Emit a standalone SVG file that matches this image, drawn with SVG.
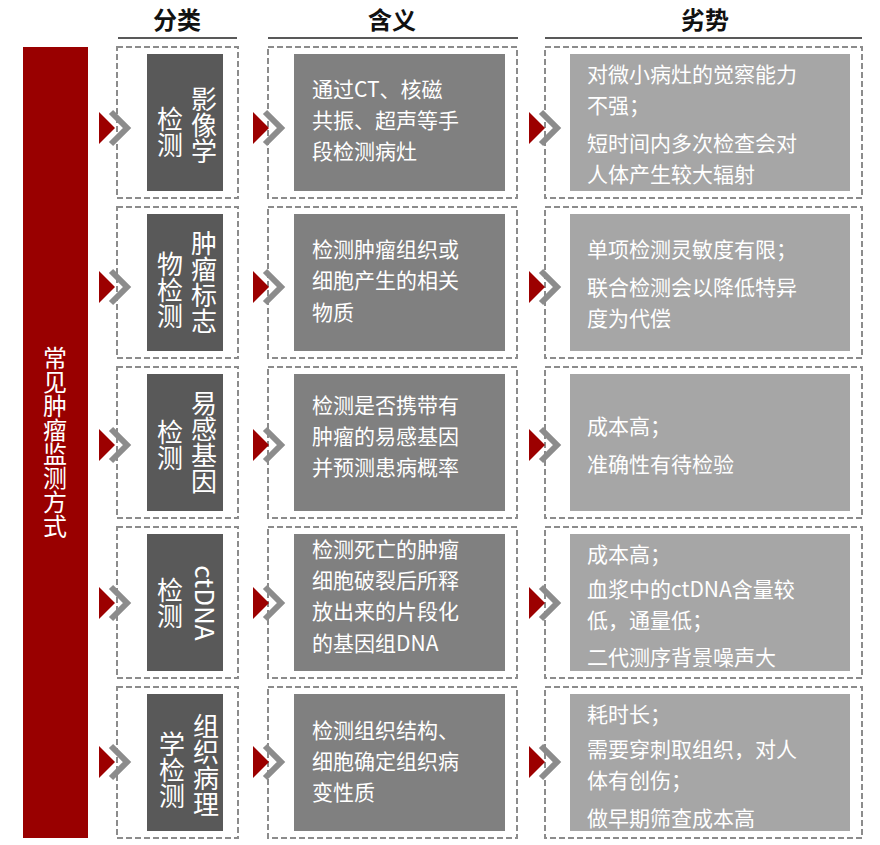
<svg xmlns="http://www.w3.org/2000/svg" width="880" height="845" viewBox="0 0 880 845">
<style>
text{font-family:"Noto Sans CJK SC","Liberation Sans",sans-serif}
.h{font-size:24px;fill:#111;text-anchor:middle;font-weight:bold}
.ul{stroke:#222;stroke-width:1.5}
.db{fill:#fff;stroke:#8c8c8c;stroke-width:2;stroke-dasharray:6,3}
.c1{fill:#595959}.c2{fill:#808080}.c3{fill:#a6a6a6}
.v{font-size:26px;fill:#fff;writing-mode:vertical-rl;text-anchor:middle}
.t{font-size:21px;fill:#fff}
.tri{fill:#9c0000}
.chev{fill:none;stroke:#8c8c8c;stroke-width:6}
</style>
<defs>
<g id="arrow"><polygon class="tri" points="0,-16 16,0 0,16"/><polyline class="chev" points="12,-16 28,0 12,16"/></g>
</defs>
<text class="h" x="177" y="29">分类</text>
<text class="h" x="392" y="29">含义</text>
<text class="h" x="705" y="29">劣势</text>
<line class="ul" x1="118" y1="38" x2="237" y2="38"/>
<line class="ul" x1="268" y1="38" x2="518" y2="38"/>
<line class="ul" x1="545" y1="38" x2="862" y2="38"/>
<g id="bar"><rect x="23" y="47" width="65" height="791" fill="#990000"/>
<text class="v" x="55" y="442" style="font-size:24px">常见肿瘤监测方式</text></g>
<g id="row1">
<rect class="db" x="117" y="47" width="121" height="151"/><rect class="c1" x="147" y="54" width="76" height="137"/>
<text class="v" x="204" y="125">影像学</text><text class="v" x="170" y="132">检测</text>
<rect class="db" x="268" y="47" width="249" height="151"/><rect class="c2" x="294" y="54" width="211" height="137"/>
<text class="t" x="312" y="97">通过CT、核磁</text><text class="t" x="312" y="128">共振、超声等手</text><text class="t" x="312" y="159">段检测病灶</text>
<rect class="db" x="545" y="47" width="317" height="151"/><rect class="c3" x="570" y="54" width="280" height="137"/>
<text class="t" x="587" y="82">对微小病灶的觉察能力</text><text class="t" x="587" y="113">不强；</text><text class="t" x="587" y="151">短时间内多次检查会对</text><text class="t" x="587" y="182">人体产生较大辐射</text>
</g>
<g id="row2">
<rect class="db" x="117" y="207" width="121" height="151"/><rect class="c1" x="147" y="214" width="76" height="137"/>
<text class="v" x="204" y="282">肿瘤标志</text><text class="v" x="170" y="290">物检测</text>
<rect class="db" x="268" y="207" width="249" height="151"/><rect class="c2" x="294" y="214" width="211" height="137"/>
<text class="t" x="312" y="257">检测肿瘤组织或</text><text class="t" x="312" y="288">细胞产生的相关</text><text class="t" x="312" y="320">物质</text>
<rect class="db" x="545" y="207" width="317" height="151"/><rect class="c3" x="570" y="214" width="280" height="137"/>
<text class="t" x="587" y="257">单项检测灵敏度有限；</text><text class="t" x="587" y="295">联合检测会以降低特异</text><text class="t" x="587" y="326">度为代偿</text>
</g>
<g id="row3">
<rect class="db" x="117" y="367" width="121" height="151"/><rect class="c1" x="147" y="374" width="76" height="137"/>
<text class="v" x="204" y="442">易感基因</text><text class="v" x="170" y="445">检测</text>
<rect class="db" x="268" y="367" width="249" height="151"/><rect class="c2" x="294" y="374" width="211" height="137"/>
<text class="t" x="312" y="413">检测是否携带有</text><text class="t" x="312" y="444">肿瘤的易感基因</text><text class="t" x="312" y="475">并预测患病概率</text>
<rect class="db" x="545" y="367" width="317" height="151"/><rect class="c3" x="570" y="374" width="280" height="137"/>
<text class="t" x="587" y="434">成本高；</text><text class="t" x="587" y="472">准确性有待检验</text>
</g>
<g id="row4">
<rect class="db" x="117" y="527" width="121" height="151"/><rect class="c1" x="147" y="534" width="76" height="137"/>
<text class="v" x="206" y="603">ctDNA</text><text class="v" x="170" y="603">检测</text>
<rect class="db" x="268" y="527" width="249" height="151"/><rect class="c2" x="294" y="534" width="211" height="137"/>
<text class="t" x="312" y="557">检测死亡的肿瘤</text><text class="t" x="312" y="588">细胞破裂后所释</text><text class="t" x="312" y="619">放出来的片段化</text><text class="t" x="312" y="651">的基因组DNA</text>
<rect class="db" x="545" y="527" width="317" height="151"/><rect class="c3" x="570" y="534" width="280" height="137"/>
<text class="t" x="587" y="562">成本高；</text><text class="t" x="587" y="597">血浆中的ctDNA含量较</text><text class="t" x="587" y="628">低，通量低；</text><text class="t" x="587" y="665">二代测序背景噪声大</text>
</g>
<g id="row5">
<rect class="db" x="117" y="687" width="121" height="151"/><rect class="c1" x="147" y="694" width="76" height="137"/>
<text class="v" x="206" y="765">组织病理</text><text class="v" x="172" y="770">学检测</text>
<rect class="db" x="268" y="687" width="249" height="151"/><rect class="c2" x="294" y="694" width="211" height="137"/>
<text class="t" x="312" y="738">检测组织结构、</text><text class="t" x="312" y="769">细胞确定组织病</text><text class="t" x="312" y="800">变性质</text>
<rect class="db" x="545" y="687" width="317" height="151"/><rect class="c3" x="570" y="694" width="280" height="137"/>
<text class="t" x="587" y="722">耗时长；</text><text class="t" x="587" y="757">需要穿刺取组织，对人</text><text class="t" x="587" y="788">体有创伤；</text><text class="t" x="587" y="826">做早期筛查成本高</text>
</g>
<g id="connectors">
<use href="#arrow" x="99" y="128"/><use href="#arrow" x="253" y="128"/><use href="#arrow" x="529" y="128"/>
<use href="#arrow" x="99" y="287"/><use href="#arrow" x="253" y="287"/><use href="#arrow" x="529" y="287"/>
<use href="#arrow" x="99" y="445"/><use href="#arrow" x="253" y="445"/><use href="#arrow" x="529" y="445"/>
<use href="#arrow" x="99" y="603"/><use href="#arrow" x="253" y="603"/><use href="#arrow" x="529" y="603"/>
<use href="#arrow" x="99" y="762"/><use href="#arrow" x="253" y="762"/><use href="#arrow" x="529" y="762"/>
</g>
</svg>
